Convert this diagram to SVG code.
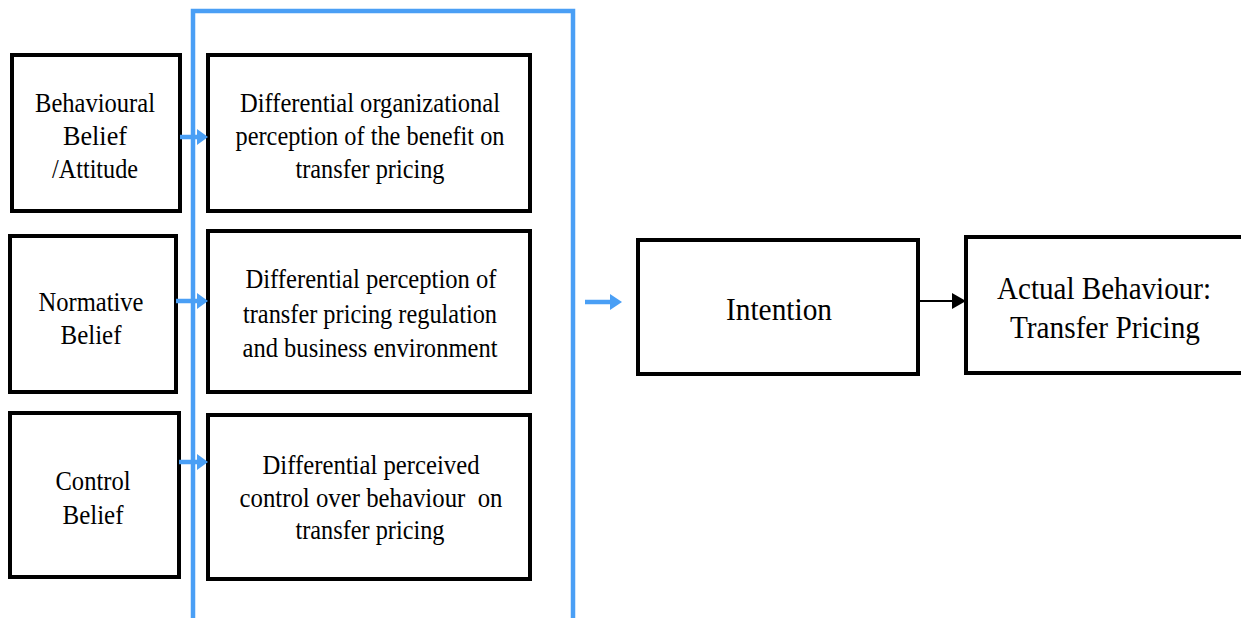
<svg xmlns="http://www.w3.org/2000/svg" width="1241" height="618" viewBox="0 0 1241 618">
<style>
.box{fill:#fff;stroke:#000;stroke-width:4}
.t{font-family:"Liberation Serif","Times New Roman",serif;font-size:27px;fill:#000;text-anchor:middle}
.tb{font-family:"Liberation Serif","Times New Roman",serif;font-size:32px;fill:#000;text-anchor:middle}
.blue{stroke:#4a9ff5;stroke-width:4.5;fill:none}
.bh{fill:#4a9ff5}
</style>
<rect width="1241" height="618" fill="#fff"/>
<g id="frame"><path class="blue" d="M193,618 V11 H573 V618"/></g>
<g id="n1"><rect class="box" x="12" y="55" width="168" height="156"/>
<text class="t" x="95" y="112" textLength="120" lengthAdjust="spacingAndGlyphs">Behavioural</text>
<text class="t" x="95" y="145" textLength="64" lengthAdjust="spacingAndGlyphs">Belief</text>
<text class="t" x="95" y="178" textLength="86" lengthAdjust="spacingAndGlyphs">/Attitude</text></g>
<g id="n2"><rect class="box" x="10" y="236" width="166" height="156"/>
<text class="t" x="91" y="311" textLength="105" lengthAdjust="spacingAndGlyphs">Normative</text>
<text class="t" x="91" y="344" textLength="61" lengthAdjust="spacingAndGlyphs">Belief</text></g>
<g id="n3"><rect class="box" x="10" y="413" width="169" height="164"/>
<text class="t" x="93" y="490" textLength="75" lengthAdjust="spacingAndGlyphs">Control</text>
<text class="t" x="93" y="524" textLength="61" lengthAdjust="spacingAndGlyphs">Belief</text></g>
<g id="m1"><rect class="box" x="208" y="55" width="322" height="156"/>
<text class="t" x="370" y="112" textLength="260" lengthAdjust="spacingAndGlyphs">Differential organizational</text>
<text class="t" x="370" y="145" textLength="269" lengthAdjust="spacingAndGlyphs">perception of the benefit on</text>
<text class="t" x="370" y="178" textLength="149" lengthAdjust="spacingAndGlyphs">transfer pricing</text></g>
<g id="m2"><rect class="box" x="208" y="231" width="322" height="161"/>
<text class="t" x="371" y="288" textLength="251" lengthAdjust="spacingAndGlyphs">Differential perception of</text>
<text class="t" x="370" y="323" textLength="254" lengthAdjust="spacingAndGlyphs">transfer pricing regulation</text>
<text class="t" x="370" y="357" textLength="255" lengthAdjust="spacingAndGlyphs">and business environment</text></g>
<g id="m3"><rect class="box" x="208" y="415" width="322" height="164"/>
<text class="t" x="371" y="474" textLength="217" lengthAdjust="spacingAndGlyphs">Differential perceived</text>
<text class="t" x="371" y="507" textLength="263" lengthAdjust="spacingAndGlyphs" xml:space="preserve">control over behaviour  on</text>
<text class="t" x="370" y="539" textLength="149" lengthAdjust="spacingAndGlyphs">transfer pricing</text></g>
<g id="intention"><rect class="box" x="638" y="240" width="280" height="134"/>
<text class="tb" x="779" y="320" textLength="106" lengthAdjust="spacingAndGlyphs">Intention</text></g>
<g id="actual"><rect class="box" x="966" y="237" width="280" height="136"/>
<text class="tb" x="1104" y="299" textLength="214" lengthAdjust="spacingAndGlyphs">Actual Behaviour:</text>
<text class="tb" x="1105" y="338" textLength="190" lengthAdjust="spacingAndGlyphs">Transfer Pricing</text></g>
<g id="connectors">
<path class="blue" d="M180,137 H198"/><polygon class="bh" points="197,129 208,137 197,145"/>
<path class="blue" d="M176,301 H198"/><polygon class="bh" points="197,293 208,301 197,309"/>
<path class="blue" d="M179,462 H198"/><polygon class="bh" points="197,454 208,462 197,470"/>
<path class="blue" d="M585,302 H611"/><polygon class="bh" points="610,294 622,302 610,310"/>
<path d="M918,301 H954" stroke="#000" stroke-width="2"/><polygon points="952,293 966,301 952,309" fill="#000"/>
</g>
</svg>
